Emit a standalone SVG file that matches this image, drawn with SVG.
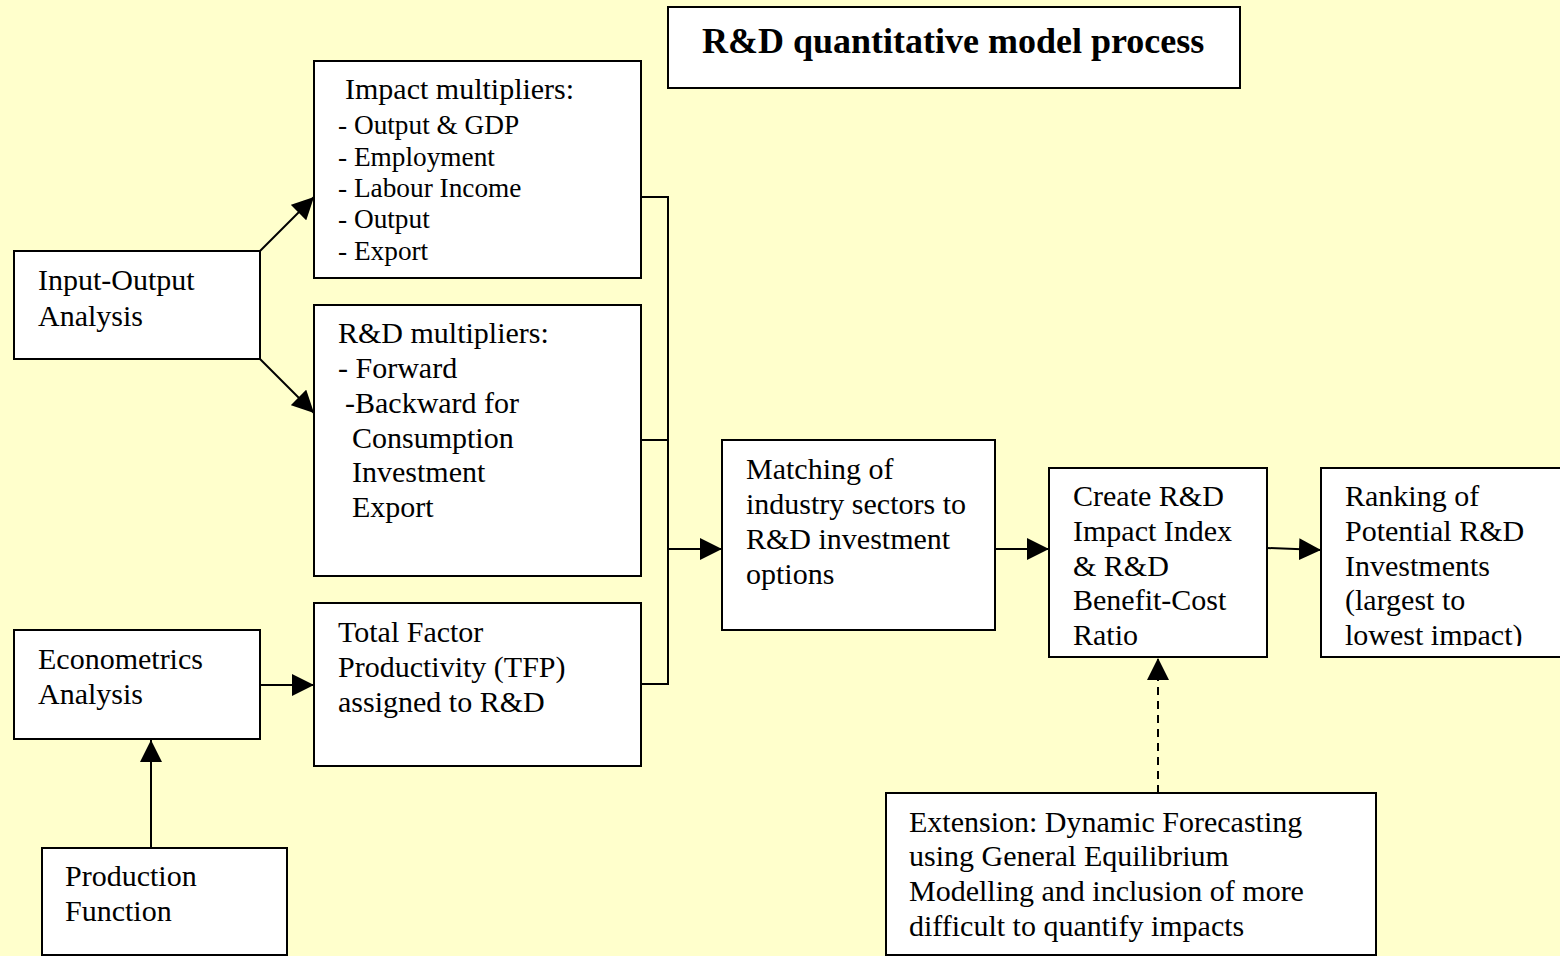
<svg xmlns="http://www.w3.org/2000/svg" width="1560" height="956" viewBox="0 0 1560 956">
<defs>
<style>
.box{fill:#ffffff;stroke:#000000;stroke-width:2}
.t{font-family:"Liberation Serif","Times New Roman",serif;font-size:30px;fill:#000}
.s{font-family:"Liberation Serif","Times New Roman",serif;font-size:27.3px;fill:#000}
.title{font-family:"Liberation Serif","Times New Roman",serif;font-size:36px;font-weight:bold;fill:#000}
.c{stroke:#000;stroke-width:2;fill:none}
</style>
<marker id="ah" viewBox="0 0 22 22" refX="22" refY="11" markerWidth="22" markerHeight="22" markerUnits="userSpaceOnUse" orient="auto">
<path d="M0,0 L22,11 L0,22 Z" fill="#000"/>
</marker>
<clipPath id="rankclip"><rect x="1321" y="468" width="240" height="178"/></clipPath>
</defs>
<rect x="0" y="0" width="1560" height="956" fill="#ffffcc"/>

<g id="title">
<rect class="box" x="668" y="7" width="572" height="81"/>
<text class="title" x="702" y="53">R&amp;D quantitative model process</text>
</g>

<g id="io">
<rect class="box" x="14" y="251" width="246" height="108"/>
<text class="t" x="38" y="290">Input-Output</text>
<text class="t" x="38" y="326">Analysis</text>
</g>

<g id="impact">
<rect class="box" x="314" y="61" width="327" height="217"/>
<text class="t" x="345" y="99">Impact multipliers:</text>
<text class="s" x="338" y="134">- Output &amp; GDP</text>
<text class="s" x="338" y="166">- Employment</text>
<text class="s" x="338" y="197">- Labour Income</text>
<text class="s" x="338" y="228">- Output</text>
<text class="s" x="338" y="260">- Export</text>
</g>

<g id="rd">
<rect class="box" x="314" y="305" width="327" height="271"/>
<text class="t" x="338" y="343">R&amp;D multipliers:</text>
<text class="t" x="338" y="378">- Forward</text>
<text class="t" x="345" y="413">-Backward for</text>
<text class="t" x="352" y="448">Consumption</text>
<text class="t" x="352" y="482">Investment</text>
<text class="t" x="352" y="517">Export</text>
</g>

<g id="tfp">
<rect class="box" x="314" y="603" width="327" height="163"/>
<text class="t" x="338" y="642">Total Factor</text>
<text class="t" x="338" y="677">Productivity (TFP)</text>
<text class="t" x="338" y="712">assigned to R&amp;D</text>
</g>

<g id="econ">
<rect class="box" x="14" y="630" width="246" height="109"/>
<text class="t" x="38" y="669">Econometrics</text>
<text class="t" x="38" y="704">Analysis</text>
</g>

<g id="prod">
<rect class="box" x="42" y="848" width="245" height="107"/>
<text class="t" x="65" y="886">Production</text>
<text class="t" x="65" y="921">Function</text>
</g>

<g id="matching">
<rect class="box" x="722" y="440" width="273" height="190"/>
<text class="t" x="746" y="479">Matching of</text>
<text class="t" x="746" y="514">industry sectors to</text>
<text class="t" x="746" y="549">R&amp;D investment</text>
<text class="t" x="746" y="584">options</text>
</g>

<g id="create">
<rect class="box" x="1049" y="468" width="218" height="189"/>
<text class="t" x="1073" y="506">Create R&amp;D</text>
<text class="t" x="1073" y="541">Impact Index</text>
<text class="t" x="1073" y="576">&amp; R&amp;D</text>
<text class="t" x="1073" y="610">Benefit-Cost</text>
<text class="t" x="1073" y="645">Ratio</text>
</g>

<g id="ranking">
<rect class="box" x="1321" y="468" width="245" height="189"/>
<g clip-path="url(#rankclip)">
<text class="t" x="1345" y="506">Ranking of</text>
<text class="t" x="1345" y="541">Potential R&amp;D</text>
<text class="t" x="1345" y="576">Investments</text>
<text class="t" x="1345" y="610">(largest to</text>
<text class="t" x="1345" y="645">lowest impact)</text>
</g>
</g>

<g id="extension">
<rect class="box" x="886" y="793" width="490" height="162"/>
<text class="t" x="909" y="832">Extension: Dynamic Forecasting</text>
<text class="t" x="909" y="866">using General Equilibrium</text>
<text class="t" x="909" y="901">Modelling and inclusion of more</text>
<text class="t" x="909" y="936">difficult to quantify impacts</text>
</g>

<g id="connectors">
<line class="c" x1="260" y1="251" x2="314" y2="197" marker-end="url(#ah)"/>
<line class="c" x1="260" y1="359" x2="314" y2="413" marker-end="url(#ah)"/>
<line class="c" x1="260" y1="685" x2="314" y2="685" marker-end="url(#ah)"/>
<line class="c" x1="151" y1="848" x2="151" y2="740" marker-end="url(#ah)"/>
<polyline class="c" points="641,197 668,197 668,684 641,684"/>
<line class="c" x1="641" y1="440" x2="668" y2="440"/>
<line class="c" x1="668" y1="549" x2="722" y2="549" marker-end="url(#ah)"/>
<line class="c" x1="995" y1="549" x2="1049" y2="549" marker-end="url(#ah)"/>
<line class="c" x1="1267" y1="548" x2="1321" y2="550" marker-end="url(#ah)"/>
<line class="c" x1="1158" y1="793" x2="1158" y2="658" stroke-dasharray="8,6" marker-end="url(#ah)"/>
</g>
</svg>
